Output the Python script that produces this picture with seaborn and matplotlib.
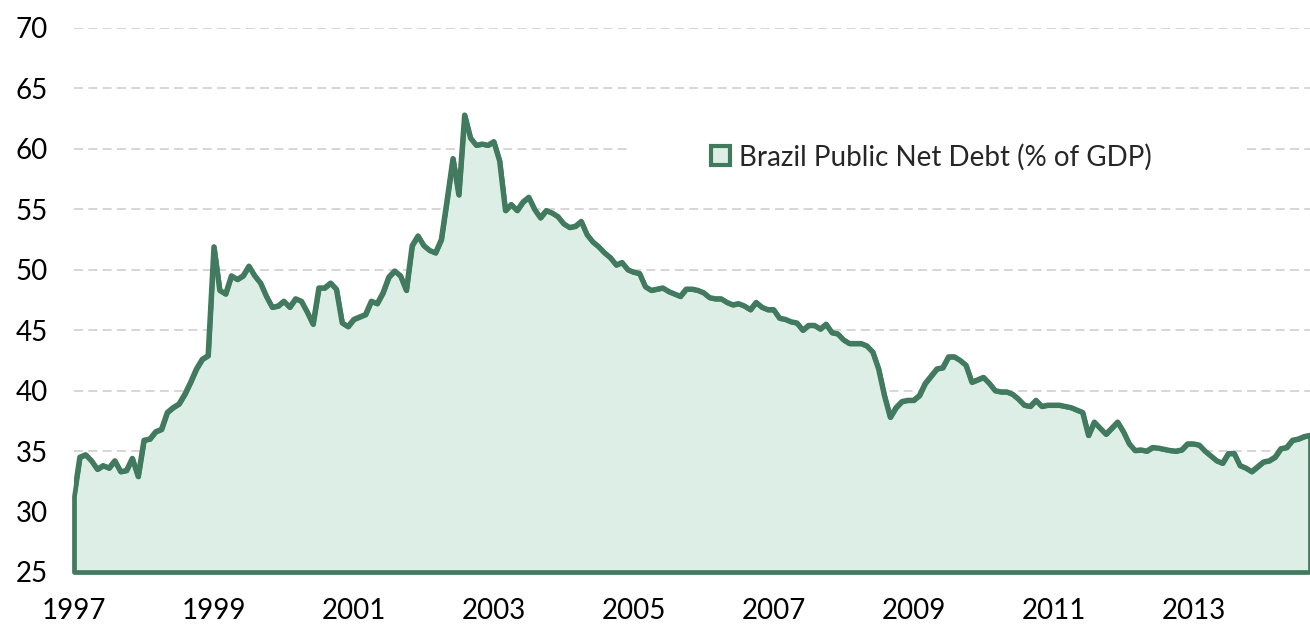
import numpy as np
import pandas as pd
import matplotlib
matplotlib.use("Agg")
import matplotlib.pyplot as plt
from matplotlib.patches import Patch, Rectangle
import seaborn as sns

# ---------------- data (monthly, Jan 1997 onward) ----------------
debt_1997 = [31.3, 34.5, 34.7, 34.2, 33.5, 33.8, 33.6, 34.2, 33.3, 33.4, 34.4, 32.9]
debt_1998 = [35.9, 36.0, 36.6, 36.8, 38.2, 38.6, 38.9, 39.7, 40.7, 41.8, 42.6, 42.9]
debt_1999 = [51.9, 48.3, 48.0, 49.5, 49.2, 49.5, 50.3, 49.5, 48.9, 47.8, 46.9, 47.0]
debt_2000 = [47.4, 46.9, 47.6, 47.4, 46.5, 45.5, 48.5, 48.5, 48.9, 48.4, 45.6, 45.3]
debt_2001 = [45.9, 46.1, 46.3, 47.4, 47.2, 48.1, 49.4, 49.9, 49.5, 48.3, 52.0, 52.8]
debt_2002 = [52.0, 51.6, 51.4, 52.5, 55.8, 59.2, 56.2, 62.8, 60.9, 60.3, 60.4, 60.3]
debt_2003 = [60.6, 59.0, 54.9, 55.4, 54.9, 55.6, 56.0, 55.0, 54.3, 54.9, 54.7, 54.4]
debt_2004 = [53.8, 53.5, 53.6, 54.0, 52.9, 52.3, 51.9, 51.4, 51.0, 50.4, 50.6, 50.0]
debt_2005 = [49.8, 49.7, 48.6, 48.3, 48.4, 48.5, 48.2, 48.0, 47.8, 48.4, 48.4, 48.3]
debt_2006 = [48.1, 47.7, 47.6, 47.6, 47.3, 47.1, 47.2, 47.0, 46.7, 47.3, 46.9, 46.7]
debt_2007 = [46.7, 46.0, 45.9, 45.7, 45.6, 45.0, 45.4, 45.4, 45.1, 45.5, 44.8, 44.7]
debt_2008 = [44.2, 43.9, 43.9, 43.9, 43.7, 43.2, 41.8, 39.6, 37.8, 38.6, 39.1, 39.2]
debt_2009 = [39.2, 39.6, 40.6, 41.2, 41.8, 41.9, 42.8, 42.8, 42.5, 42.1, 40.7, 40.9]
debt_2010 = [41.1, 40.6, 40.0, 39.9, 39.9, 39.7, 39.3, 38.8, 38.7, 39.2, 38.7, 38.8]
debt_2011 = [38.8, 38.8, 38.7, 38.6, 38.4, 38.2, 36.3, 37.4, 36.9, 36.4, 36.9, 37.4]
debt_2012 = [36.6, 35.6, 35.05, 35.1, 35.0, 35.3, 35.25, 35.15, 35.05, 35.0, 35.1, 35.6]
debt_2013 = [35.6, 35.5, 35.0, 34.6, 34.2, 34.0, 34.8, 34.8, 33.8, 33.6, 33.3, 33.7]
debt_2014 = [34.1, 34.2, 34.5, 35.2, 35.3, 35.9, 36.0, 36.2, 36.3]

start_year = 1997
tick_years = [1997, 1999, 2001, 2003, 2005, 2007, 2009, 2011, 2013]
y_ticks = [25, 30, 35, 40, 45, 50, 55, 60, 65, 70]
series_label = "Brazil Public Net Debt (% of GDP)"

values = (debt_1997 + debt_1998 + debt_1999 + debt_2000 + debt_2001 + debt_2002 +
          debt_2003 + debt_2004 + debt_2005 + debt_2006 + debt_2007 + debt_2008 +
          debt_2009 + debt_2010 + debt_2011 + debt_2012 + debt_2013 + debt_2014)
df = pd.DataFrame({"month": np.arange(len(values)), "debt": values})

# ---------------- style ----------------
sns.set_style("white")
plt.rcParams["font.family"] = ["Lato", "DejaVu Sans"]
plt.rcParams["lines.scale_dashes"] = False

LINE = "#417a5f"
FILL = "#ddeee6"
GRID = "#d3d3d3"
FS = 20

W, H = 1310, 627
fig = plt.figure(figsize=(W / 100, H / 100), dpi=100)
ax = fig.add_axes([74 / W, 1 - 572 / H, 1236 / W, 544 / H])

ymin, ymax = y_ticks[0], y_ticks[-1]
ax.set_ylim(ymin, ymax)
ax.set_xlim(df["month"].iloc[0], df["month"].iloc[-1])

# grid
ax.set_yticks(y_ticks)
ax.yaxis.grid(True, color=GRID, linewidth=1.3, dashes=(6.5, 3.8), zorder=0)
ax.xaxis.grid(False)
ax.set_axisbelow(True)

# legend background (hides gridline behind the legend)
ax.add_patch(Rectangle(((628 - 74) / 1236, (572 - 186) / 544),
                       (1245 - 628) / 1236, (186 - 128) / 544,
                       transform=ax.transAxes, facecolor="white",
                       edgecolor="none", zorder=1))

# area fill with outline
ax.fill_between(df["month"], ymin, df["debt"], facecolor=FILL, edgecolor=LINE,
                linewidth=3.4, zorder=2, clip_on=False)
sns.lineplot(data=df, x="month", y="debt", ax=ax, color=LINE, linewidth=3.8,
             zorder=3, legend=False)

# axes / ticks
ax.set_xticks([(y - start_year) * 12 for y in tick_years])
ax.set_xticklabels([str(y) for y in tick_years])
ax.set_yticklabels([str(v) for v in y_ticks])
ax.tick_params(axis="both", length=0, labelsize=FS, colors="#000000")
ax.tick_params(axis="y", pad=19)
ax.tick_params(axis="x", pad=19)
ax.set_xlabel("")
ax.set_ylabel("")
for s in ["top", "right", "left"]:
    ax.spines[s].set_visible(False)
ax.spines["bottom"].set_color("#9a9a9a")
ax.spines["bottom"].set_linewidth(2.0)
ax.spines["bottom"].set_zorder(1)

handle = Patch(facecolor=FILL, edgecolor=LINE, linewidth=3.0)
ax.legend([handle], [series_label], loc="center left",
          bbox_to_anchor=((711 - 74) / 1236, (572 - 157) / 544),
          frameon=False, fontsize=FS, handlelength=0.7, handleheight=0.7,
          handletextpad=0.3, borderpad=0, borderaxespad=0)

fig.savefig("out.png", dpi=100)
